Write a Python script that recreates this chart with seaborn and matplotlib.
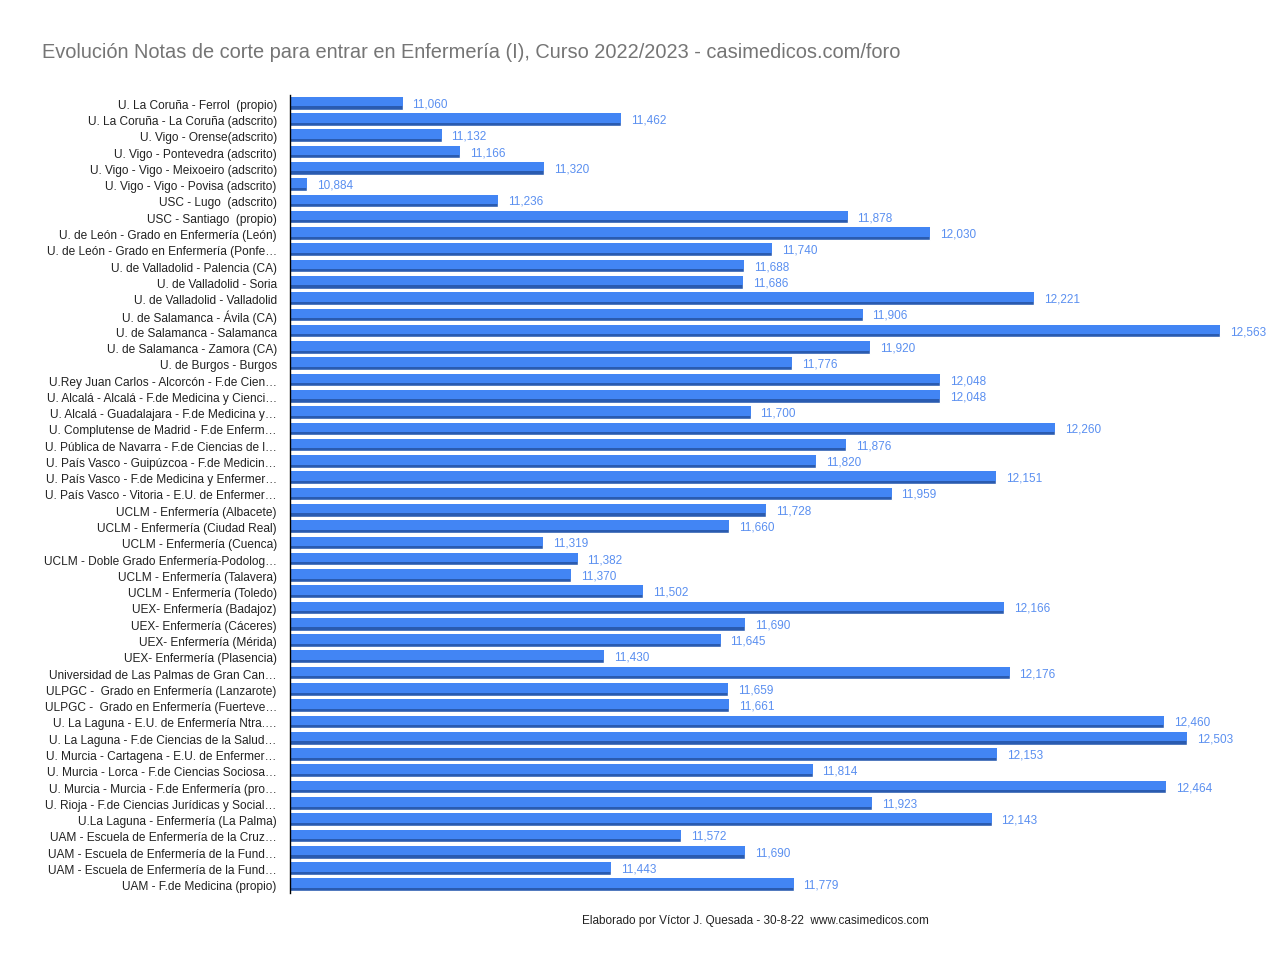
import matplotlib
matplotlib.use("Agg")
import matplotlib.pyplot as plt
import seaborn as sns
import pandas as pd
import numpy as np

# Notas de corte Enfermería 2022/2023
centros = [
    "U. La Coruña - Ferrol  (propio)",
    "U. La Coruña - La Coruña (adscrito)",
    "U. Vigo - Orense(adscrito)",
    "U. Vigo - Pontevedra (adscrito)",
    "U. Vigo - Vigo - Meixoeiro (adscrito)",
    "U. Vigo - Vigo - Povisa (adscrito)",
    "USC - Lugo  (adscrito)",
    "USC - Santiago  (propio)",
    "U. de León - Grado en Enfermería (León)",
    "U. de León - Grado en Enfermería (Ponfe…",
    "U. de Valladolid - Palencia (CA)",
    "U. de Valladolid - Soria",
    "U. de Valladolid - Valladolid",
    "U. de Salamanca - Ávila (CA)",
    "U. de Salamanca - Salamanca",
    "U. de Salamanca - Zamora (CA)",
    "U. de Burgos - Burgos",
    "U.Rey Juan Carlos - Alcorcón - F.de Cien…",
    "U. Alcalá - Alcalá - F.de Medicina y Cienci…",
    "U. Alcalá - Guadalajara - F.de Medicina y…",
    "U. Complutense de Madrid - F.de Enferm…",
    "U. Pública de Navarra - F.de Ciencias de l…",
    "U. País Vasco - Guipúzcoa - F.de Medicin…",
    "U. País Vasco - F.de Medicina y Enfermer…",
    "U. País Vasco - Vitoria - E.U. de Enfermer…",
    "UCLM - Enfermería (Albacete)",
    "UCLM - Enfermería (Ciudad Real)",
    "UCLM - Enfermería (Cuenca)",
    "UCLM - Doble Grado Enfermería-Podolog…",
    "UCLM - Enfermería (Talavera)",
    "UCLM - Enfermería (Toledo)",
    "UEX- Enfermería (Badajoz)",
    "UEX- Enfermería (Cáceres)",
    "UEX- Enfermería (Mérida)",
    "UEX- Enfermería (Plasencia)",
    "Universidad de Las Palmas de Gran Can…",
    "ULPGC -  Grado en Enfermería (Lanzarote)",
    "ULPGC -  Grado en Enfermería (Fuerteve…",
    "U. La Laguna - E.U. de Enfermería Ntra.…",
    "U. La Laguna - F.de Ciencias de la Salud…",
    "U. Murcia - Cartagena - E.U. de Enfermer…",
    "U. Murcia - Lorca - F.de Ciencias Sociosa…",
    "U. Murcia - Murcia - F.de Enfermería (pro…",
    "U. Rioja - F.de Ciencias Jurídicas y Social…",
    "U.La Laguna - Enfermería (La Palma)",
    "UAM - Escuela de Enfermería de la Cruz…",
    "UAM - Escuela de Enfermería de la Fund…",
    "UAM - Escuela de Enfermería de la Fund…",
    "UAM - F.de Medicina (propio)",
]

notas = [
    11.060, 11.462, 11.132, 11.166, 11.320, 10.884, 11.236, 11.878, 12.030, 11.740,
    11.688, 11.686, 12.221, 11.906, 12.563, 11.920, 11.776, 12.048, 12.048, 11.700,
    12.260, 11.876, 11.820, 12.151, 11.959, 11.728, 11.660, 11.319, 11.382, 11.370,
    11.502, 12.166, 11.690, 11.645, 11.430, 12.176, 11.659, 11.661, 12.460, 12.503,
    12.153, 11.814, 12.464, 11.923, 12.143, 11.572, 11.690, 11.443, 11.779,
]

titulo = "Evolución Notas de corte para entrar en Enfermería (I), Curso 2022/2023 - casimedicos.com/foro"
pie = "Elaborado por Víctor J. Quesada - 30-8-22  www.casimedicos.com"

sns.set_style("white")
plt.rcParams["font.family"] = ["Liberation Sans", "DejaVu Sans"]

azul = "#4285f4"
azul_oscuro = "#2a5bb0"

df = pd.DataFrame({"pos": [str(i) for i in range(len(notas))], "nota": notas})

fig = plt.figure(figsize=(12.72, 9.62), dpi=100)
ax = fig.add_axes([0.228, 0.0707, 0.747, 0.8295])

# shadow bar (darker lower edge), then the lighter face on top
sns.barplot(data=df, x="nota", y="pos", orient="h", color=azul_oscuro,
            width=0.78, saturation=1, ax=ax)
pos = np.arange(len(notas))
ax.barh(pos - 0.1, notas, height=0.58, color=azul, linewidth=0)

for i, v in enumerate(notas):
    ax.annotate(f"{v:.3f}".replace(".", ","), (v, i), xytext=(7, 0),
                textcoords="offset points", va="center", ha="left",
                fontsize=8.5, color="#5a8ff0")

ax.set_xlim(10.853, 12.600)
ax.set_ylim(len(notas) - 0.5, -0.5)
ax.set_yticks(pos)
ax.set_yticklabels(centros, fontsize=8.6, color="#222222")
ax.tick_params(axis="y", direction="inout", length=9, width=1, color="black", pad=5)
ax.set_xticks([])
ax.set_xlabel("")
ax.set_ylabel("")
for s in ["top", "right", "bottom"]:
    ax.spines[s].set_visible(False)
ax.spines["left"].set_color("black")
ax.spines["left"].set_linewidth(1)

fig.text(0.033, 0.945, titulo, fontsize=14.4, color="#757575", va="center", ha="left")
fig.text(0.594, 0.043, pie, fontsize=8.5, color="#222222", va="center", ha="center")

fig.savefig("out.png", dpi=100)
